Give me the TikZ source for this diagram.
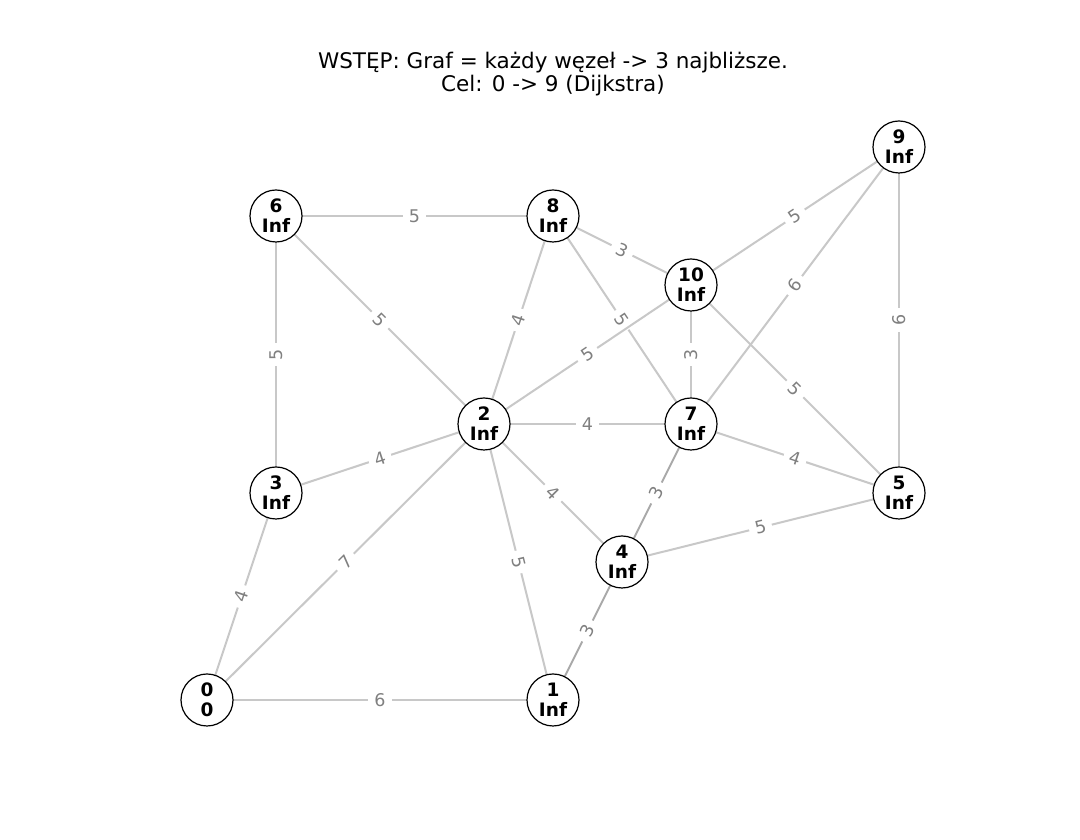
\documentclass[tikz,border=0pt]{standalone}
\usepackage{fontspec}
\setmainfont{DejaVu Sans}
\definecolor{edgegray}{HTML}{C8C8C8}
\definecolor{edgedark}{HTML}{A8A8A8}
\definecolor{labgray}{HTML}{808080}
\begin{document}
\begin{tikzpicture}[x=1pt,y=1pt,
  vert/.style={circle,draw=black,line width=1.2pt,fill=white,minimum size=52pt,inner sep=0pt,
    align=center,font=\fontsize{18.5}{20}\selectfont\bfseries},
  edge/.style={draw=edgegray,line width=2pt},
  edgedk/.style={draw=edgedark,line width=2pt},
  wlab/.style={fill=white,text=labgray,inner xsep=6pt,inner ysep=2pt,sloped,pos=0.5,
    font=\fontsize{17.5}{17.5}\selectfont}]
\useasboundingbox (0,0) rectangle (1080,840);
\fill[white] (0,0) rectangle (1080,840);
\node[align=center,font=\fontsize{21.5}{23.5}\selectfont] (title) at (553,766)
  {WSTĘP: Graf = każdy węzeł -> 3 najbliższe.\\Cel: 0 -> 9 (Dijkstra)};
% node positions
\coordinate (p0) at (207,140);
\coordinate (p1) at (553,140);
\coordinate (p2) at (484,416);
\coordinate (p3) at (276,347);
\coordinate (p4) at (622,278);
\coordinate (p5) at (899,347);
\coordinate (p6) at (276,624);
\coordinate (p7) at (691,416);
\coordinate (p8) at (553,624);
\coordinate (p9) at (899,693);
\coordinate (p10) at (691,555);
% edges
\draw[edge] (p6) -- node[wlab]{5} (p8);
\draw[edge] (p8) -- node[wlab]{3} (p10);
\draw[edge] (p10) -- node[wlab]{5} (p9);
\draw[edge] (p7) -- node[wlab]{6} (p9);
\draw[edge] (p5) -- node[wlab]{6} (p9);
\draw[edge] (p3) -- node[wlab]{5} (p6);
\draw[edge] (p6) -- node[wlab]{5} (p2);
\draw[edge] (p8) -- node[wlab]{4} (p2);
\draw[edge] (p8) -- node[wlab]{5} (p7);
\draw[edge] (p10) -- node[wlab]{5} (p2);
\draw[edge] (p7) -- node[wlab]{3} (p10);
\draw[edge] (p10) -- node[wlab]{5} (p5);
\draw[edge] (p2) -- node[wlab]{4} (p7);
\draw[edge] (p3) -- node[wlab]{4} (p2);
\draw[edge] (p7) -- node[wlab]{4} (p5);
\draw[edge] (p2) -- node[wlab]{4} (p4);
\draw[edgedk] (p7) -- node[wlab]{3} (p4);
\draw[edge] (p4) -- node[wlab]{5} (p5);
\draw[edge] (p0) -- node[wlab]{7} (p2);
\draw[edge] (p2) -- node[wlab]{5} (p1);
\draw[edgedk] (p4) -- node[wlab]{3} (p1);
\draw[edge] (p0) -- node[wlab]{4} (p3);
\draw[edge] (p0) -- node[wlab]{6} (p1);
% vertices
\node[vert] (n0) at (p0) {0\\0};
\node[vert] (n1) at (p1) {1\\Inf};
\node[vert] (n2) at (p2) {2\\Inf};
\node[vert] (n3) at (p3) {3\\Inf};
\node[vert] (n4) at (p4) {4\\Inf};
\node[vert] (n5) at (p5) {5\\Inf};
\node[vert] (n6) at (p6) {6\\Inf};
\node[vert] (n7) at (p7) {7\\Inf};
\node[vert] (n8) at (p8) {8\\Inf};
\node[vert] (n9) at (p9) {9\\Inf};
\node[vert] (n10) at (p10) {10\\Inf};
\end{tikzpicture}
\end{document}
